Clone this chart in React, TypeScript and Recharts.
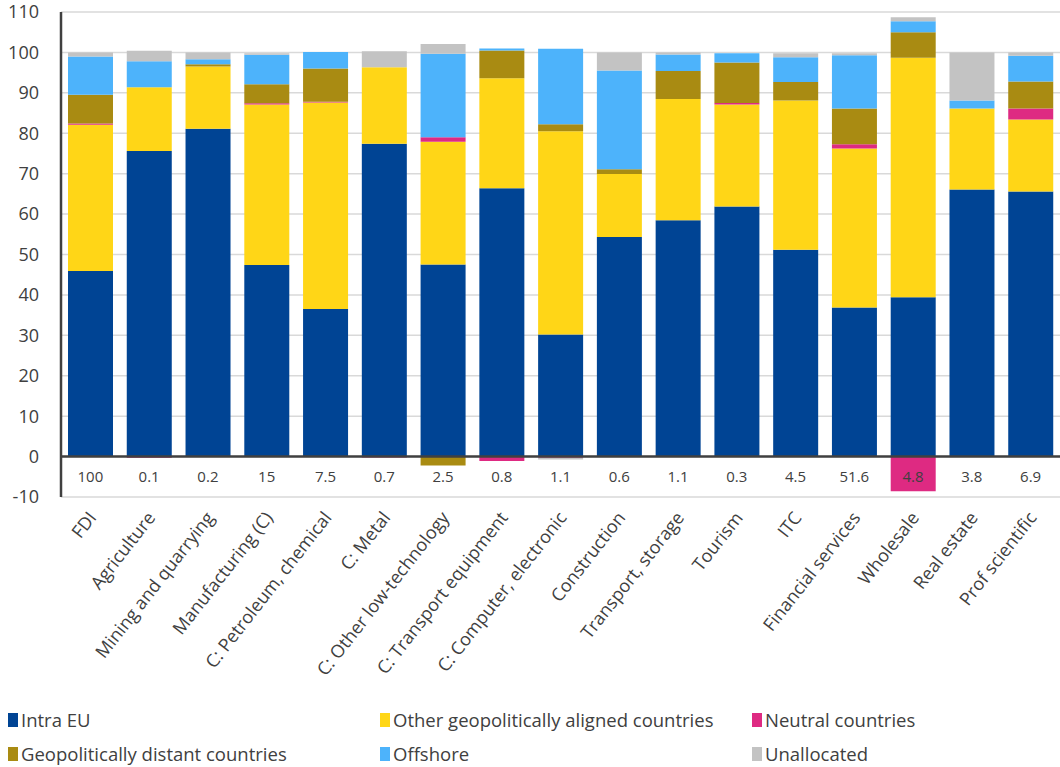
import React from 'react';
import { BarChart, Bar, XAxis, YAxis, CartesianGrid, ReferenceLine, Legend } from 'recharts';

const categories = [
  'FDI', 'Agriculture', 'Mining and quarrying', 'Manufacturing (C)', 'C: Petroleum, chemical',
  'C: Metal', 'C: Other low-technology', 'C: Transport equipment', 'C: Computer, electronic',
  'Construction', 'Transport, storage', 'Tourism', 'ITC', 'Financial services', 'Wholesale',
  'Real estate', 'Prof scientific',
];
const shares = ['100', '0.1', '0.2', '15', '7.5', '0.7', '2.5', '0.8', '1.1', '0.6', '1.1', '0.3', '4.5', '51.6', '4.8', '3.8', '6.9'];

const intraEU = [45.9, 75.6, 81.1, 47.4, 36.5, 77.4, 47.5, 66.4, 30.2, 54.3, 58.5, 61.9, 51.2, 36.9, 39.4, 66.1, 65.6];
const otherAligned = [36.2, 15.8, 15.4, 39.7, 51.1, 18.9, 30.4, 27.2, 50.3, 15.6, 30.0, 25.2, 36.9, 39.3, 59.3, 20.0, 17.8];
const neutral = [0.3, -0.3, 0, 0.3, 0.2, -0.2, 1.1, -1.1, -0.3, 0, 0, 0.4, 0, 1.1, -8.6, 0, 2.7];
const distant = [7.1, 0, 0.6, 4.7, 8.2, 0, -2.2, 6.9, 1.7, 1.2, 6.9, 10.0, 4.6, 8.8, 6.3, 0, 6.7];
const offshore = [9.5, 6.4, 1.2, 7.3, 4.1, 0, 20.7, 0.5, 18.7, 24.4, 4.1, 2.3, 6.1, 13.2, 2.7, 2.0, 6.4];
const unallocated = [1.0, 2.6, 1.7, 0.4, 0, 4.0, 2.4, 0, -0.4, 4.5, 0.5, 0, 1.0, 0.5, 1.0, 11.9, 0.8];

const yTicks = [-10, 0, 10, 20, 30, 40, 50, 60, 70, 80, 90, 100, 110];

const series = [
  { key: 'intraEU', name: 'Intra EU', color: '#004494' },
  { key: 'otherAligned', name: 'Other geopolitically aligned countries', color: '#FFD617' },
  { key: 'neutral', name: 'Neutral countries', color: '#DE2A82' },
  { key: 'distant', name: 'Geopolitically distant countries', color: '#A98B12' },
  { key: 'offshore', name: 'Offshore', color: '#4DB3FB' },
  { key: 'unallocated', name: 'Unallocated', color: '#C3C3C3' },
];

const data = categories.map((c, i) => ({
  name: c,
  share: shares[i],
  intraEU: intraEU[i],
  otherAligned: otherAligned[i],
  neutral: neutral[i],
  distant: distant[i],
  offshore: offshore[i],
  unallocated: unallocated[i],
}));

const FONT = '"Open Sans", "Liberation Sans", sans-serif';

const CategoryTick = (props: any) => {
  const { x, y, payload, index } = props;
  return (
    <g>
      <text x={x} y={y - 27} textAnchor="middle" dominantBaseline="middle" fontSize={15} fill="#404040" fontFamily={FONT}>
        {shares[index]}
      </text>
      <g transform={`translate(${x + 7},${y + 13})`}>
        <text textAnchor="end" transform="rotate(-52)" fontSize={18} fill="#404040" fontFamily={FONT}>
          {payload.value}
        </text>
      </g>
    </g>
  );
};

const LegendBox = () => (
  <div style={{ height: 80, position: 'relative', fontFamily: FONT, fontSize: 18.5, color: '#404040' }}>
    {series.map((s, i) => (
      <div
        key={s.key}
        style={{
          position: 'absolute',
          left: 8 + (i % 3) * 372,
          top: i < 3 ? 20 : 54,
          display: 'flex',
          alignItems: 'center',
          whiteSpace: 'nowrap',
        }}
      >
        <span style={{ display: 'inline-block', width: 10, height: 14, background: s.color, marginRight: 3 }} />
        <span>{s.name}</span>
      </div>
    ))}
  </div>
);

export default function App() {
  return (
    <div style={{ position: 'absolute', left: 0, top: 0, background: '#fff' }}>
      <BarChart
        width={1060}
        height={767}
        data={data}
        stackOffset="sign"
        barSize={45}
        margin={{ top: 12, right: 0, bottom: 0, left: 0 }}
      >
        <CartesianGrid vertical={false} stroke="#d9d9d9" strokeWidth={1.5} />
        <YAxis
          domain={[-10, 110]}
          ticks={yTicks}
          interval={0}
          width={61}
          tickLine={false}
          axisLine={{ stroke: '#404040', strokeWidth: 2.5 }}
          tickMargin={16}
          tick={{ fontSize: 18, fill: '#404040', fontFamily: FONT }}
          allowDataOverflow
        />
        {series.map((s) => (
          <Bar key={s.key} dataKey={s.key} name={s.name} stackId="a" fill={s.color} isAnimationActive={false} />
        ))}
        <ReferenceLine y={0} stroke="#404040" strokeWidth={2.5} />
        <XAxis dataKey="name" interval={0} height={190} tickLine={false} axisLine={false} tick={<CategoryTick />} />
        <Legend verticalAlign="bottom" content={() => <LegendBox />} />
      </BarChart>
    </div>
  );
}
